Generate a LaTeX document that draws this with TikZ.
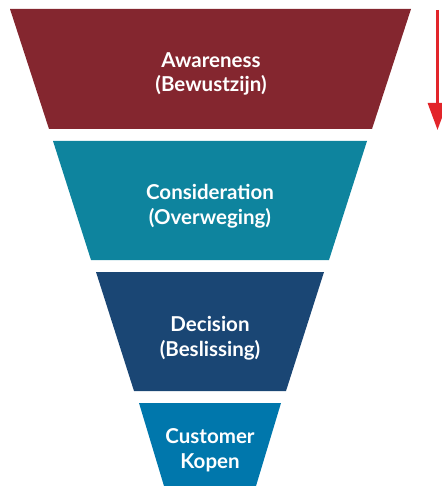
\documentclass[tikz,border=0pt]{standalone}
\usepackage{fontspec}
\setmainfont{Lato}
\usepackage{tikz}
\usetikzlibrary{arrows.meta}
\definecolor{fn_red}{RGB}{132, 38, 47}
\definecolor{fn_teal}{RGB}{14, 132, 158}
\definecolor{fn_navy}{RGB}{26, 70, 116}
\definecolor{fn_blue}{RGB}{0, 119, 172}
\definecolor{fn_arrow}{RGB}{226, 37, 42}
\tikzstyle{lbl}=[text=white,align=center,font=\fontsize{20.5}{24.5}\selectfont\bfseries,
  inner sep=0pt]
\tikzstyle{flow}=[draw=fn_arrow,line width=3pt,-{Triangle[width=19pt,length=27pt]}]

\begin{document}
\begin{tikzpicture}[x=1pt, y=-1pt]
    \useasboundingbox (0, 0) rectangle (441, 486);
    \fill [fn_red] (10, 9) -- (411, 9) -- (372, 129) -- (49, 129) -- cycle;
    \fill [fn_teal] (53, 141) -- (367, 141) -- (329, 260) -- (91, 260) -- cycle;
    \fill [fn_navy] (96, 272) -- (324, 272) -- (286, 391) -- (134, 391) -- cycle;
    \fill [fn_blue] (139, 403) -- (281, 403) -- (256, 486) -- (164, 486) -- cycle;
    \node [style=lbl] (0) at (211, 74) {Awareness\\(Bewustzijn)};
    \node [style=lbl] (1) at (210, 206) {Consideration\\(Overweging)};
    \node [style=lbl] (2) at (210, 338) {Decision\\(Beslissing)};
    \node [style=lbl] (3) at (210, 450) {Customer\\Kopen};
    \coordinate (4) at (437.5, 10);
    \coordinate (5) at (437.5, 130);
    \draw [style=flow] (4) to (5);
\end{tikzpicture}
\end{document}
